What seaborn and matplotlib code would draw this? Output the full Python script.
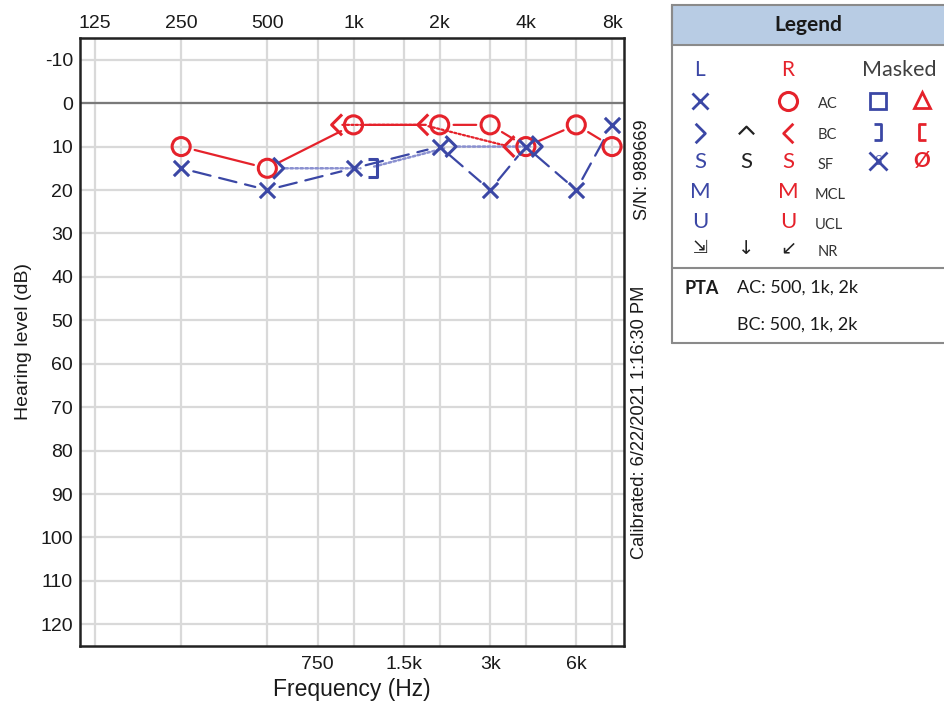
import matplotlib.pyplot as plt
import numpy as np
import pandas as pd
import seaborn as sns
from matplotlib.path import Path
from matplotlib.transforms import offset_copy

# Audiogram data (dB HL)
freqs = [250, 500, 1000, 2000, 3000, 4000, 6000, 8000]
right_ac = [10, 15, 5, 5, 5, 10, 5, 10]
left_ac = [15, 20, 15, 10, 20, 10, 20, 5]
right_bc_freqs = [1000, 2000, 4000]
right_bc = [5, 5, 10]
left_bc_freqs = [500, 1000, 2000, 4000]
left_bc = [15, 15, 10, 10]
left_bc_masked = [False, True, False, False]

octave_freqs = [125, 250, 500, 1000, 2000, 4000, 8000]
octave_labels = ['125', '250', '500', '1k', '2k', '4k', '8k']
mid_freqs = [750, 1500, 3000, 6000]
mid_labels = ['750', '1.5k', '3k', '6k']
db_ticks = list(range(-10, 130, 10))

RED = '#e5222b'
BLUE = '#3b47a5'
LAVENDER = '#8a90d0'

sns.set_style('white')
plt.rcParams['font.family'] = ['Liberation Sans', 'DejaVu Sans']
plt.rcParams['axes.unicode_minus'] = False

# open marker shapes
CHEV_L = Path([(0.5, 1), (-0.5, 0), (0.5, -1)], [Path.MOVETO, Path.LINETO, Path.LINETO])
CHEV_R = Path([(-0.5, 1), (0.5, 0), (-0.5, -1)], [Path.MOVETO, Path.LINETO, Path.LINETO])
CHEV_U = Path([(-1, -0.5), (0, 0.5), (1, -0.5)], [Path.MOVETO, Path.LINETO, Path.LINETO])
BRACK_R = Path([(-0.5, 1), (0.4, 1), (0.4, -1), (-0.5, -1)],
               [Path.MOVETO, Path.LINETO, Path.LINETO, Path.LINETO])
BRACK_L = Path([(0.5, 1), (-0.4, 1), (-0.4, -1), (0.5, -1)],
               [Path.MOVETO, Path.LINETO, Path.LINETO, Path.LINETO])

fig = plt.figure(figsize=(9.45, 7.05), dpi=100)
ax = fig.add_axes([80 / 945, 1 - 646 / 705, 544 / 945, 608 / 705])

ax.set_xscale('log', base=2)
ax.set_xlim(110.8, 8807)
ax.set_ylim(125, -15)

# grid
ax.set_xticks(mid_freqs, labels=mid_labels)
ax.set_xticks(octave_freqs, minor=True)
ax.xaxis.set_minor_formatter(plt.NullFormatter())
ax.set_yticks(db_ticks)
ax.grid(True, which='both', color='#d9d9d9', lw=1.6)
ax.axhline(0, color='#7a7a7a', lw=1.6, zorder=1)
ax.tick_params(which='both', length=0, labelsize=14, colors='#1a1a1a')
ax.tick_params(axis='x', pad=7)
ax.tick_params(axis='y', pad=5)
for spine in ax.spines.values():
    spine.set_color('#222222')
    spine.set_linewidth(1.8)

top = ax.secondary_xaxis('top')
top.set_xticks(octave_freqs, labels=octave_labels)
top.xaxis.set_minor_locator(plt.NullLocator())
top.tick_params(length=0, labelsize=14, colors='#1a1a1a', pad=4)

ax.set_xlabel('Frequency (Hz)', fontsize=16.5, color='#1a1a1a', labelpad=4)
ax.set_ylabel('Hearing level (dB)', fontsize=14, color='#1a1a1a', labelpad=6)


def shifted(dx):
    return offset_copy(ax.transData, fig=fig, x=dx, y=0, units='points')


def connect(xs, ys, offs, color, ls, lw, shrink):
    for i in range(len(xs) - 1):
        ax.annotate('', xy=(xs[i + 1], ys[i + 1]), xycoords=shifted(offs[i + 1]),
                    xytext=(xs[i], ys[i]), textcoords=shifted(offs[i]),
                    arrowprops=dict(arrowstyle='-', color=color, lw=lw, linestyle=ls,
                                    shrinkA=shrink, shrinkB=shrink), zorder=3)


def marks(xs, ys, marker, color, size, dx=0, lw=2.2):
    df = pd.DataFrame({'f': xs, 'db': ys})
    if marker == 'x':
        style = dict(color=color)
    else:
        style = dict(facecolor='none', edgecolor=color)
    sns.scatterplot(data=df, x='f', y='db', marker=marker, s=size ** 2, linewidth=lw,
                    transform=shifted(dx), ax=ax, zorder=4, clip_on=False, **style)


# connecting lines
lbc_off = [10 if m else 8 for m in left_bc_masked]
connect(freqs, right_ac, [0] * len(freqs), RED, '-', 1.6, 10)
connect(freqs, left_ac, [0] * len(freqs), BLUE, (0, (8, 4)), 1.6, 9)
connect(right_bc_freqs, right_bc, [-12] * len(right_bc), RED, (0, (1, 1)), 1.6, 4)
connect(left_bc_freqs, left_bc, lbc_off, LAVENDER, (0, (1, 1)), 1.8, 5)

# symbols
marks(freqs, right_ac, 'o', RED, 13)
marks(freqs, left_ac, 'x', BLUE, 11)
marks(right_bc_freqs, right_bc, CHEV_L, RED, 15, dx=-12)
lbc_f = [f for f, m in zip(left_bc_freqs, left_bc_masked) if not m]
lbc_v = [v for v, m in zip(left_bc, left_bc_masked) if not m]
marks(lbc_f, lbc_v, CHEV_R, BLUE, 15, dx=8)
lbm_f = [f for f, m in zip(left_bc_freqs, left_bc_masked) if m]
lbm_v = [v for v, m in zip(left_bc, left_bc_masked) if m]
marks(lbm_f, lbm_v, BRACK_R, BLUE, 13, dx=14)
if ax.get_legend():
    ax.get_legend().remove()

# side annotations
fig.text(643 / 945, 1 - 170 / 705, 'S/N: 989669', rotation=90, ha='center', va='center',
         fontsize=13, color='#1a1a1a')
fig.text(640 / 945, 1 - 422 / 705, 'Calibrated: 6/22/2021 1:16:30 PM', rotation=90,
         ha='center', va='center', fontsize=13.2, color='#1a1a1a')

# legend panel (pixel coordinates)
lax = fig.add_axes([0, 0, 1, 1], zorder=-1)
lax.set_xlim(0, 945)
lax.set_ylim(705, 0)
lax.axis('off')
LF = ['Lato', 'DejaVu Sans']
GRAY = '#8a8a8a'
lax.add_patch(plt.Rectangle((672, 5), 280, 40, facecolor='#b8cce4', edgecolor=GRAY, lw=1.5))
lax.plot([672, 672], [5, 343], color=GRAY, lw=1.5)
lax.plot([672, 945], [268, 268], color=GRAY, lw=1.5)
lax.plot([672, 945], [343, 343], color=GRAY, lw=1.5)
lax.text(808, 25, 'Legend', ha='center', va='center', fontsize=15, fontweight='bold',
         family=LF, color='#1a1a1a')

cb, ck, cr, cl, cm1, cm2 = 700, 746, 788, 818, 878, 922
txt = dict(ha='center', va='center', family=LF)
lab = dict(ha='left', va='center', family=LF, fontsize=10.5, color='#333333')
lax.text(cb, 70, 'L', color=BLUE, fontsize=15, **txt)
lax.text(cr, 70, 'R', color=RED, fontsize=15, **txt)
lax.text(899, 70, 'Masked', color='#404040', fontsize=15.5, **txt)

lax.plot(cb, 101, marker='x', color=BLUE, ms=11, mew=2)
lax.plot(cr, 101, marker='o', mec=RED, mfc='none', ms=13, mew=2.2)
lax.text(cl, 104, 'AC', **lab)
lax.plot(cm1, 101, marker='s', mec=BLUE, mfc='none', ms=12, mew=2)
lax.plot(cm2, 100, marker='^', mec=RED, mfc='none', ms=12, mew=2)

lax.plot(cb, 133, marker=CHEV_R, mec=BLUE, mfc='none', ms=14, mew=2)
lax.plot(ck, 130, marker=CHEV_U, mec='#222222', mfc='none', ms=11, mew=1.6)
lax.plot(cr, 133, marker=CHEV_L, mec=RED, mfc='none', ms=14, mew=2)
lax.text(cl, 135, 'BC', **lab)
lax.plot(cm1, 132, marker=BRACK_R, mec=BLUE, mfc='none', ms=12, mew=2)
lax.plot(cm2, 132, marker=BRACK_L, mec=RED, mfc='none', ms=12, mew=2)

lax.text(cb, 162, 'S', color=BLUE, fontsize=16, **txt)
lax.text(ck, 162, 'S', color='#222222', fontsize=16, **txt)
lax.text(cr, 162, 'S', color=RED, fontsize=16, **txt)
lax.text(cl, 165, 'SF', **lab)
lax.plot(cm1, 161, marker='x', color=BLUE, ms=13, mew=2)
lax.text(cm1, 161, 'S', color=BLUE, fontsize=10, alpha=0.8, **txt)
lax.text(cm2, 161, 'Ø', color=RED, fontsize=15, fontweight='bold', **txt)

lax.text(cb, 192, 'M', color=BLUE, fontsize=16, **txt)
lax.text(cr, 192, 'M', color=RED, fontsize=16, **txt)
lax.text(cl - 3, 195, 'MCL', **lab)
lax.text(cb, 222, 'U', color=BLUE, fontsize=16, **txt)
lax.text(cr, 222, 'U', color=RED, fontsize=16, **txt)
lax.text(cl - 3, 225, 'UCL', **lab)

lax.text(cb, 248, '⇲', color='#222222', fontsize=13, ha='center', va='center', family='DejaVu Sans')
lax.text(ck, 248, '↓', color='#222222', fontsize=14, ha='center', va='center', family='DejaVu Sans')
lax.text(cr, 248, '↙', color='#222222', fontsize=14, ha='center', va='center', family='DejaVu Sans')
lax.text(cl, 252, 'NR', **lab)

lax.text(685, 288, 'PTA', ha='left', va='center', family=LF, fontsize=13,
         fontweight='bold', color='#1a1a1a')
lax.text(737, 288, 'AC: 500, 1k, 2k', ha='left', va='center', family=LF, fontsize=13,
         color='#1a1a1a')
lax.text(737, 325, 'BC: 500, 1k, 2k', ha='left', va='center', family=LF, fontsize=13,
         color='#1a1a1a')

fig.savefig('out.png', dpi=100)
